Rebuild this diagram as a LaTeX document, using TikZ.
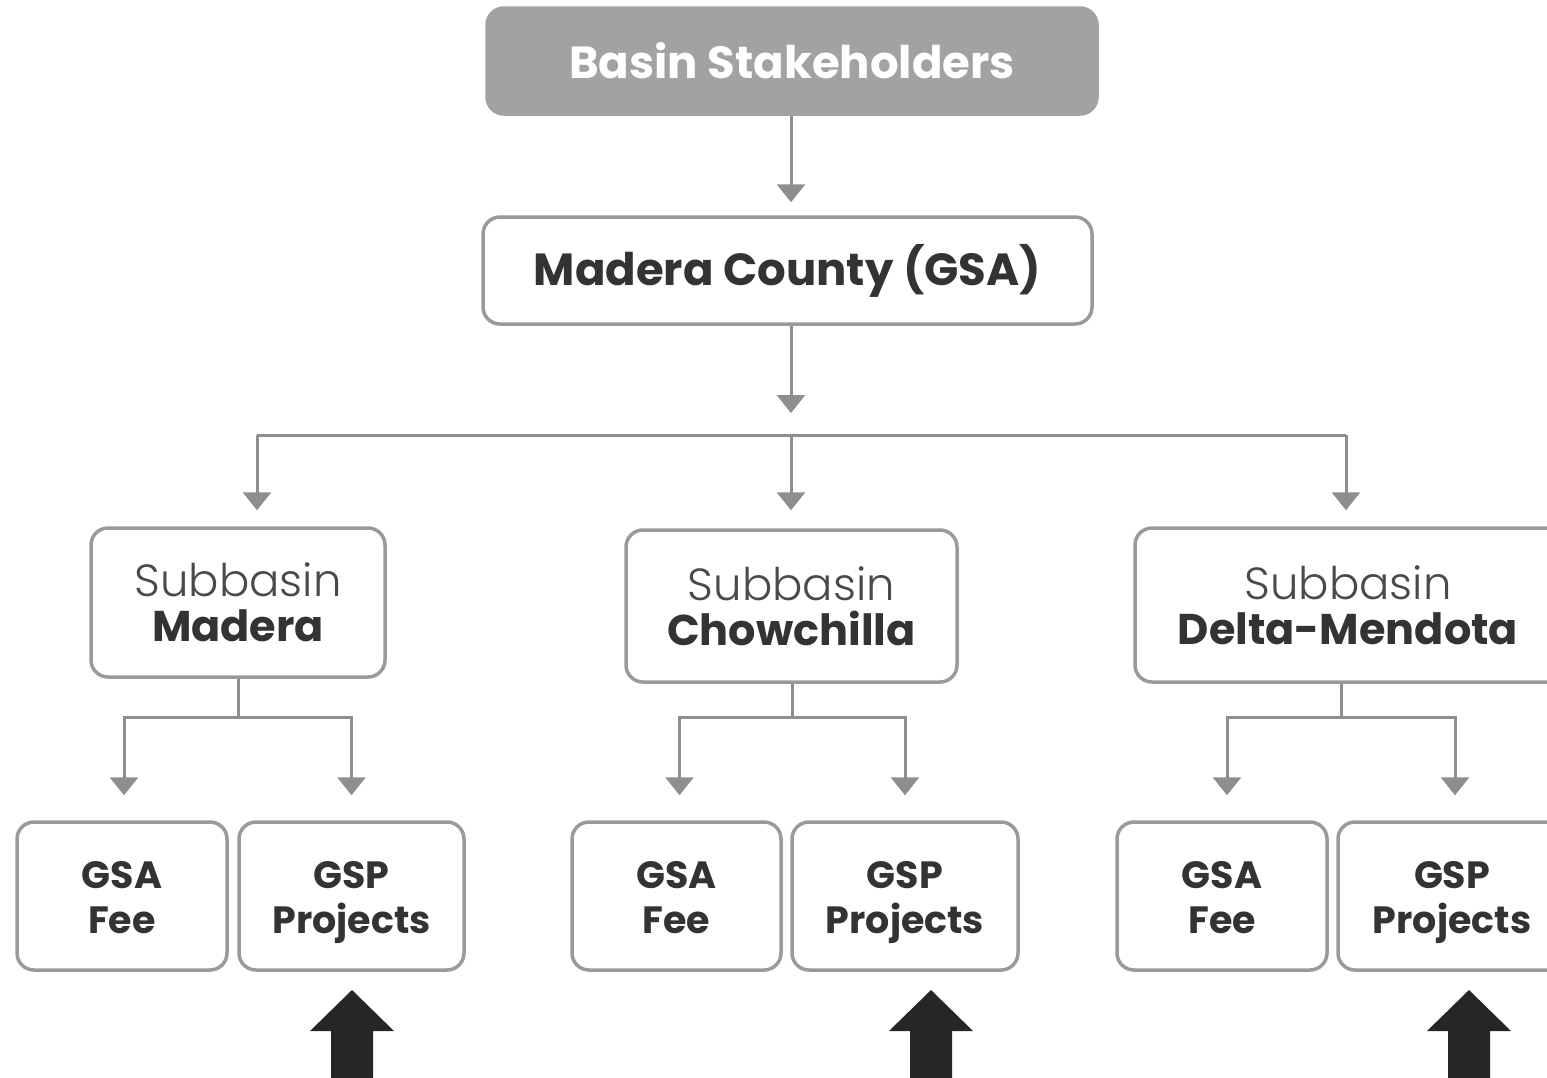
\documentclass[tikz,border=0pt]{standalone}
\usepackage{fontspec}
\setmainfont{Poppins}
\newfontfamily\lightf{Poppins Light}
\usetikzlibrary{arrows.meta}
\definecolor{linegray}{HTML}{8E8E8E}
\definecolor{boxgray}{HTML}{9A9A9A}
\definecolor{topgray}{HTML}{A2A2A2}
\definecolor{txtdark}{HTML}{333333}
\definecolor{txtlight}{HTML}{4A4A4A}
\definecolor{bigdark}{HTML}{262626}
\newcommand{\sublight}[1]{{\lightf\fontsize{45}{45}\selectfont\color{txtlight}#1}}
\newcommand{\subbold}[1]{{\bfseries\fontsize{43}{45}\selectfont #1}}
\tikzset{
  box/.style={draw=boxgray, line width=3.5pt, rounded corners=17pt, fill=white, inner sep=0pt, align=center, text=txtdark},
  topbox/.style={box, draw=topgray, fill=topgray, text=white, font=\fontsize{45}{48}\selectfont\bfseries},
  countybox/.style={box, font=\fontsize{45}{48}\selectfont\bfseries},
  subbox/.style={box, font=\fontsize{43}{45}\selectfont},
  leafbox/.style={box, font=\fontsize{38}{45}\selectfont\bfseries},
  conn/.style={draw=linegray, line width=3pt},
  arr/.style={conn, -{Triangle[width=28pt,length=18pt]}},
  bigarrow/.style={fill=bigdark}
}
\begin{document}
\begin{tikzpicture}[x=1pt,y=-1pt]
\useasboundingbox (0,0) rectangle (1547,1077);
\clip (0,0) rectangle (1547,1077);
\fill[white] (0,0) rectangle (1547,1077);

% nodes
\node[topbox, minimum width=610pt, minimum height=106pt] (top) at (792,61) {Basin Stakeholders};
\node[countybox, minimum width=609pt, minimum height=107pt] (county) at (787.5,270.5) {Madera County (GSA)};

\node[subbox, minimum width=294pt, minimum height=149pt] (sbM) at (238,602.5) {\sublight{Subbasin}\\\subbold{Madera}};
\node[subbox, minimum width=331pt, minimum height=152pt] (sbC) at (791.5,606) {\sublight{Subbasin}\\\subbold{Chowchilla}};
\node[subbox, minimum width=445pt, minimum height=154pt] (sbD) at (1357.5,605) {\hspace*{-19pt}\sublight{Subbasin}\\\hspace*{-19pt}\subbold{Delta-Mendota}};

\node[leafbox, minimum width=210pt, minimum height=148pt] (feeM) at (122,896) {\rule{0pt}{41pt}GSA\\Fee\vphantom{j}};
\node[leafbox, minimum width=225pt, minimum height=148pt] (gspM) at (351.5,896) {\rule{0pt}{41pt}GSP\\Projects};
\node[leafbox, minimum width=209pt, minimum height=148pt] (feeC) at (676.5,896) {\rule{0pt}{41pt}GSA\\Fee\vphantom{j}};
\node[leafbox, minimum width=226pt, minimum height=148pt] (gspC) at (905,896) {\rule{0pt}{41pt}GSP\\Projects};
\node[leafbox, minimum width=210pt, minimum height=148pt] (feeD) at (1222,896) {\rule{0pt}{41pt}GSA\\Fee\vphantom{j}};
\node[leafbox, minimum width=264pt, minimum height=148pt] (gspD) at (1470,896) {\hspace*{-36pt}\rule{0pt}{41pt}GSP\\\hspace*{-36pt}Projects};

% connectors
\coordinate (cEnd) at (791,413);
\coordinate (hubL) at (257,435);
\coordinate (hubC) at (791,435);
\coordinate (hubR) at (1346,435);
\draw[arr, shorten >=13pt] (top.south -| cEnd) -- (county.north -| cEnd);
\draw[arr] (county.south -| cEnd) -- (cEnd);
\draw[conn] (hubL) -- (hubR);
\draw[arr, shorten >=16pt] (hubL) -- (sbM.north -| hubL);
\draw[arr, shorten >=18pt] (hubC) -- (sbC.north -| hubC);
\draw[arr, shorten >=16pt] (hubR) -- (sbD.north -| hubR);

\coordinate (jM) at (238,717);
\coordinate (jC) at (792,717);
\coordinate (jD) at (1341,717);
\draw[conn] (sbM.south -| jM) -- (jM);
\draw[conn] (sbC.south -| jC) -- (jC);
\draw[conn] (sbD.south -| jD) -- (jD);
\draw[arr, shorten >=25pt] (jM) -| ([xshift=2pt]feeM.north);
\draw[arr, shorten >=25pt] (jM) -| (gspM.north);
\draw[arr, shorten >=25pt] (jC) -| ([xshift=3pt]feeC.north);
\draw[arr, shorten >=25pt] (jC) -| (gspC.north);
\draw[arr, shorten >=25pt] (jD) -| ([xshift=5pt]feeD.north);
\draw[arr, shorten >=25pt] (jD) -| ([xshift=-15pt]gspD.north);

% big dark arrows
\fill[bigarrow] (352,990) -- (394,1031) -- (373,1031) -- (373,1090) -- (331,1090) -- (331,1031) -- (310,1031) -- cycle;
\fill[bigarrow] (931,990) -- (973,1031) -- (952,1031) -- (952,1090) -- (910,1090) -- (910,1031) -- (889,1031) -- cycle;
\fill[bigarrow] (1469,990) -- (1511,1031) -- (1490,1031) -- (1490,1090) -- (1448,1090) -- (1448,1031) -- (1427,1031) -- cycle;
\end{tikzpicture}
\end{document}
